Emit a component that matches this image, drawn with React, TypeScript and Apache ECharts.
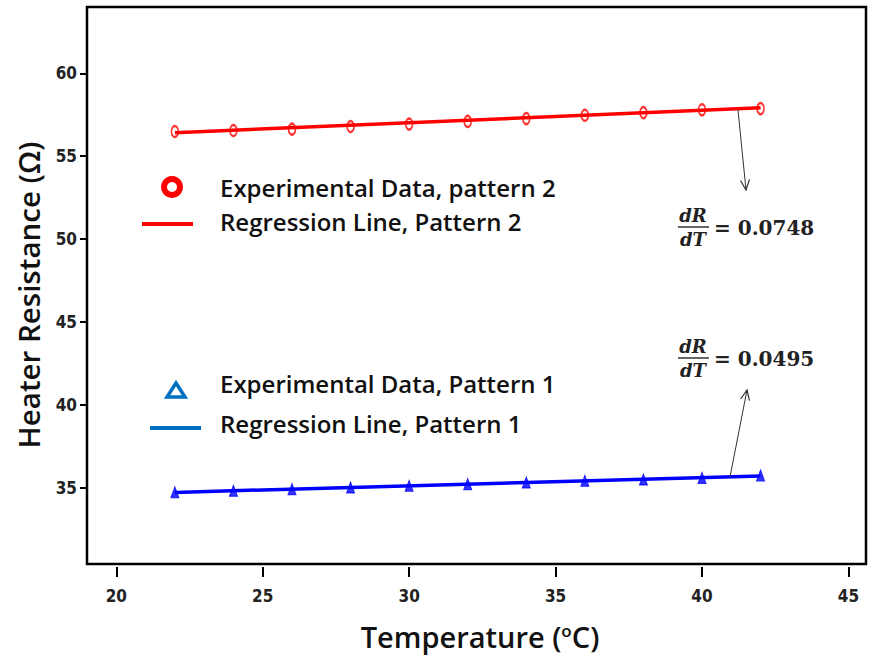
import React, { useEffect, useRef } from "react";
import * as echarts from "echarts";

const temperatures = [22, 24, 26, 28, 30, 32, 34, 36, 38, 40, 42];
const pattern2Values = [56.49, 56.55, 56.63, 56.79, 56.94, 57.1, 57.27, 57.47, 57.63, 57.8, 57.87];
const pattern1Values = [34.73, 34.82, 34.92, 35.02, 35.12, 35.22, 35.32, 35.42, 35.5, 35.6, 35.75];
const regression2X = [22, 42];
const regression2Y = [56.42, 57.92];
const regression1X = [22, 42];
const regression1Y = [34.72, 35.71];
const xTicks = [20, 25, 30, 35, 40, 45];
const yTicks = [35, 40, 45, 50, 55, 60];
const legendLabels = [
  "Experimental Data, pattern 2",
  "Regression Line, Pattern 2",
  "Experimental Data, Pattern 1",
  "Regression Line, Pattern 1",
];
const slopeValues = ["0.0748", "0.0495"];

const RED = "#ff0000";
const BLUE = "#0000ff";
const LEG_BLUE = "#0070c0";
const TEXT = "#111111";
const LEG_FONT = "'Open Sans', Lato, sans-serif";
const TICK_FONT = "'Liberation Sans Narrow', 'DejaVu Sans Condensed', sans-serif";
const MATH_FONT = "'DejaVu Serif', 'Liberation Serif', serif";

function arrow(x1: number, y1: number, x2: number, y2: number) {
  const ang = Math.atan2(y2 - y1, x2 - x1);
  const len = 11;
  const spread = 0.42;
  const p1 = [x2 - len * Math.cos(ang - spread), y2 - len * Math.sin(ang - spread)];
  const p2 = [x2 - len * Math.cos(ang + spread), y2 - len * Math.sin(ang + spread)];
  return [
    { type: "line", shape: { x1, y1, x2, y2 }, style: { stroke: "#333", lineWidth: 1 }, z: 100 },
    { type: "polyline", shape: { points: [p1, [x2, y2], p2] }, style: { stroke: "#333", lineWidth: 1.2, fill: null }, z: 100 },
  ];
}

function fraction(x: number, yc: number, value: string) {
  return [
    { type: "text", x: x + 15, y: yc - 3, style: { text: "dR", font: `italic bold 18px ${MATH_FONT}`, fill: "#222", align: "center", verticalAlign: "bottom" }, z: 100 },
    { type: "line", shape: { x1: x, y1: yc, x2: x + 31, y2: yc }, style: { stroke: "#333", lineWidth: 1.5 }, z: 100 },
    { type: "text", x: x + 15, y: yc + 3, style: { text: "dT", font: `italic bold 18px ${MATH_FONT}`, fill: "#222", align: "center", verticalAlign: "top" }, z: 100 },
    { type: "text", x: x + 36, y: yc + 1, style: { text: "= " + value, font: `bold 20px ${MATH_FONT}`, fill: "#222", align: "left", verticalAlign: "middle" }, z: 100 },
  ];
}

export default function App() {
  const ref = useRef<HTMLDivElement>(null);
  useEffect(() => {
    if (!ref.current) return;
    const chart = echarts.init(ref.current, null, { renderer: "svg" });
    const zip = (xs: number[], ys: number[]) => xs.map((x, i) => [x, ys[i]]);
    const graphic: any[] = [
      // y title
      {
        type: "text", x: 28, y: 295, rotation: Math.PI / 2,
        style: { text: "Heater Resistance (Ω)", font: `600 29.5px ${LEG_FONT}`, fill: TEXT, align: "center", verticalAlign: "middle" },
      },
      // x title
      {
        type: "text", x: 480, y: 636,
        style: {
          text: "Temperature ({sup|o}C)", font: `600 29px ${LEG_FONT}`, fill: TEXT, align: "center", verticalAlign: "middle",
          rich: { sup: { fontSize: 17, fontWeight: 600, fontFamily: LEG_FONT, padding: [0, 0, 12, 0], fill: TEXT } },
        },
      },
      // legend pattern 2
      { type: "ring", shape: { cx: 172, cy: 187, r: 11, r0: 5 }, style: { fill: RED }, z: 100 },
      { type: "text", x: 220, y: 187, style: { text: legendLabels[0], font: `600 24px ${LEG_FONT}`, fill: TEXT, verticalAlign: "middle" }, z: 100 },
      { type: "line", shape: { x1: 142, y1: 224, x2: 193, y2: 224 }, style: { stroke: RED, lineWidth: 4 }, z: 100 },
      { type: "text", x: 220, y: 221, style: { text: legendLabels[1], font: `600 24px ${LEG_FONT}`, fill: TEXT, verticalAlign: "middle" }, z: 100 },
      // legend pattern 1
      { type: "polygon", shape: { points: [[176, 383], [185, 397], [167, 397]] }, style: { fill: null, stroke: LEG_BLUE, lineWidth: 3.5, lineJoin: "miter" }, z: 100 },
      { type: "text", x: 220, y: 383, style: { text: legendLabels[2], font: `600 24px ${LEG_FONT}`, fill: TEXT, verticalAlign: "middle" }, z: 100 },
      { type: "line", shape: { x1: 150, y1: 428, x2: 201, y2: 428 }, style: { stroke: LEG_BLUE, lineWidth: 4 }, z: 100 },
      { type: "text", x: 220, y: 423, style: { text: legendLabels[3], font: `600 24px ${LEG_FONT}`, fill: TEXT, verticalAlign: "middle" }, z: 100 },
      ...arrow(738, 110, 746, 190),
      ...arrow(730, 477, 747, 390),
      ...fraction(678, 227, slopeValues[0]),
      ...fraction(678, 358, slopeValues[1]),
    ];
    chart.setOption({
      animation: false,
      backgroundColor: "#ffffff",
      grid: { left: 87, top: 7, width: 779, height: 557, show: true, borderColor: "#000", borderWidth: 2.5, backgroundColor: "transparent" },
      xAxis: {
        type: "value", min: 19, max: 45.6, offset: 3,
        axisLine: { show: false },
        splitLine: { show: false },
        axisTick: { show: true, length: 10, lineStyle: { color: "#000", width: 2 }, customValues: xTicks },
        axisLabel: { customValues: xTicks, margin: 20, color: "#222", fontSize: 17, fontWeight: "bold", fontFamily: TICK_FONT },
      },
      yAxis: {
        type: "value", min: 30.4, max: 64,
        axisLine: { show: false },
        splitLine: { show: false },
        axisTick: { show: true, length: 7, lineStyle: { color: "#000", width: 2 }, customValues: yTicks },
        axisLabel: { customValues: yTicks, margin: 10, color: "#222", fontSize: 17, fontWeight: "bold", fontFamily: TICK_FONT },
      },
      series: [
        {
          type: "line", data: zip(regression2X, regression2Y), showSymbol: false, symbol: "none",
          lineStyle: { color: RED, width: 3.5 }, z: 2,
        },
        {
          type: "scatter", data: zip(temperatures, pattern2Values), symbol: "circle", symbolSize: [7, 11],
          itemStyle: { color: "rgba(0,0,0,0)", borderColor: RED, borderWidth: 2 }, z: 3,
        },
        {
          type: "line", data: zip(regression1X, regression1Y), showSymbol: false, symbol: "none",
          lineStyle: { color: BLUE, width: 3.5 }, z: 2,
        },
        {
          type: "scatter", data: zip(temperatures, pattern1Values), symbol: "triangle", symbolSize: [8, 11],
          itemStyle: { color: BLUE, borderColor: BLUE, borderWidth: 1 }, z: 3,
        },
      ],
      graphic,
    });
    return () => chart.dispose();
  }, []);
  return <div ref={ref} style={{ position: "absolute", left: 0, top: 0, width: 870, height: 656 }} />;
}
